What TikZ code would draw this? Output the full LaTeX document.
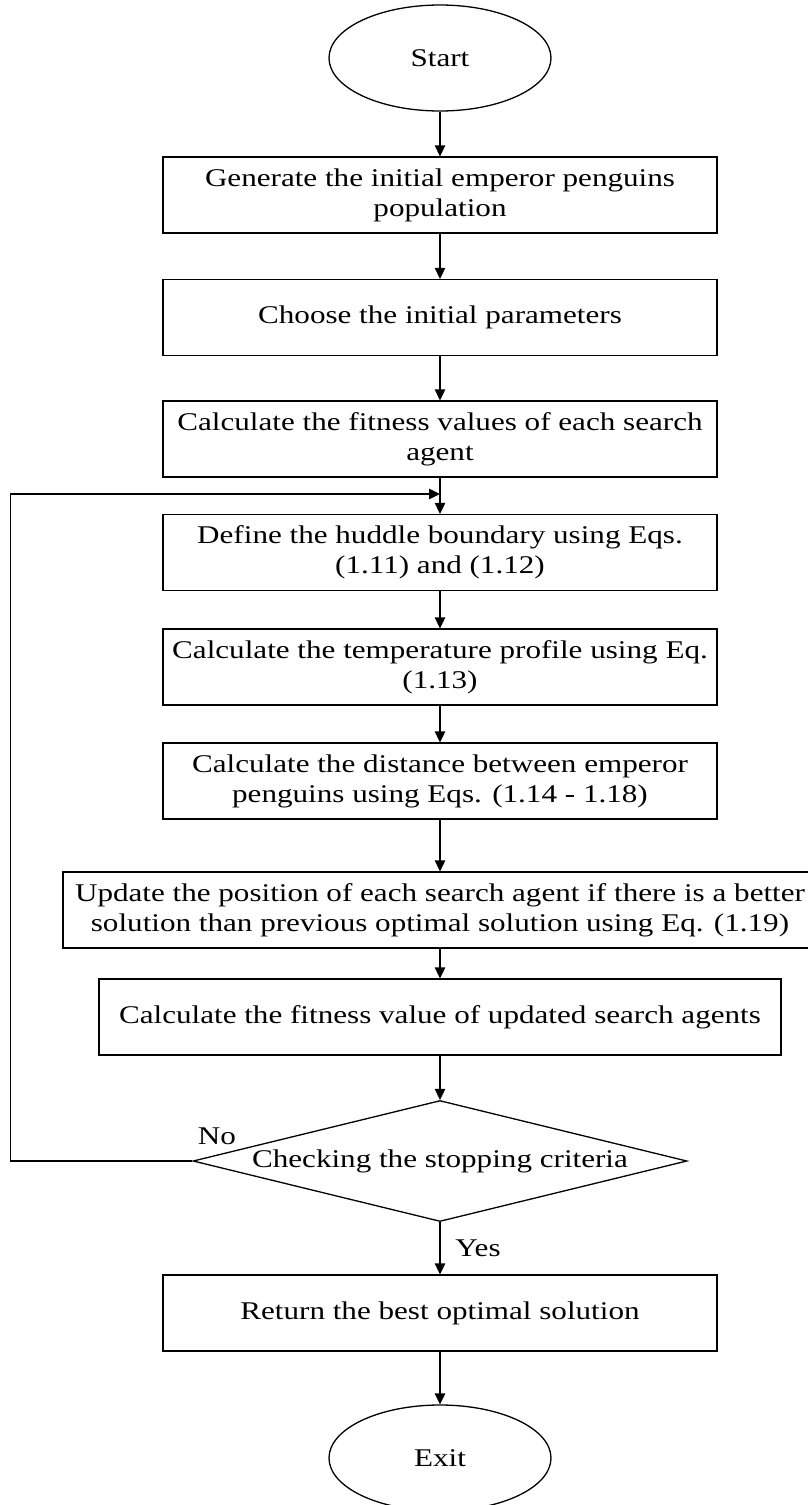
\documentclass[tikz,border=0pt]{standalone}
\usepackage{fontspec}
\setmainfont{Liberation Serif}[FakeStretch=1.22]
\usepackage{tikz}
\usetikzlibrary{arrows.meta,shapes.geometric}

\begin{document}
\begin{tikzpicture}[x=1pt,y=-1pt,
	font=\fontsize{25.5}{30}\selectfont,
	line width=1.3pt,
	box/.style={draw,rectangle,minimum width=554pt,minimum height=76pt,inner sep=0pt,align=center},
	term/.style={draw,ellipse,minimum width=222pt,minimum height=106pt,inner sep=0pt},
	decide/.style={draw,diamond,aspect=4.08,minimum width=494pt,minimum height=121pt,inner sep=0pt},
	flow/.style={-{Triangle[length=11pt,width=10.5pt]}}]
	\useasboundingbox (0,0) rectangle (807,1505);

	\node[term] (start) at (440,58) {Start};
	\node[box] (gen) at (440,195) {Generate the initial emperor penguins\\population};
	\node[box] (choose) at (440,317.5) {Choose the initial parameters};
	\node[box] (calc) at (440,439) {Calculate the fitness values of each search\\agent};
	\node[box] (define) at (440,552.5) {Define the huddle boundary using Eqs.\\(1.11) and (1.12)};
	\node[box] (temp) at (440,667) {Calculate the temperature profile using Eq.\\(1.13)};
	\node[box] (dist) at (440,781) {Calculate the distance between emperor\\penguins using Eqs. (1.14 - 1.18)};
	\node[box,minimum width=754pt] (update) at (440,910) {Update the position of each search agent if there is a better\\solution than previous optimal solution using Eq. (1.19)};
	\node[box,minimum width=682pt] (fitup) at (440,1017) {Calculate the fitness value of updated search agents};
	\node[decide] (check) at (440,1161) {Checking the stopping criteria};
	\node[box] (ret) at (440,1313) {Return the best optimal solution};
	\node[term] (exit) at (440,1458) {Exit};

	\foreach \From/\To in
	{start/gen,gen/choose,choose/calc,calc/define,define/temp,temp/dist,dist/update,update/fitup,fitup/check,check/ret,ret/exit}
		\draw[flow] (\From.south) -- (\To.north);

	\coordinate (loop) at (440,494);
	\draw[flow] (check.west) -- ++(-182,0) |- (loop);

	\node (no) at (217,1136) {No};
	\node (yes) at (478,1248) {Yes};

\end{tikzpicture}
\end{document}
